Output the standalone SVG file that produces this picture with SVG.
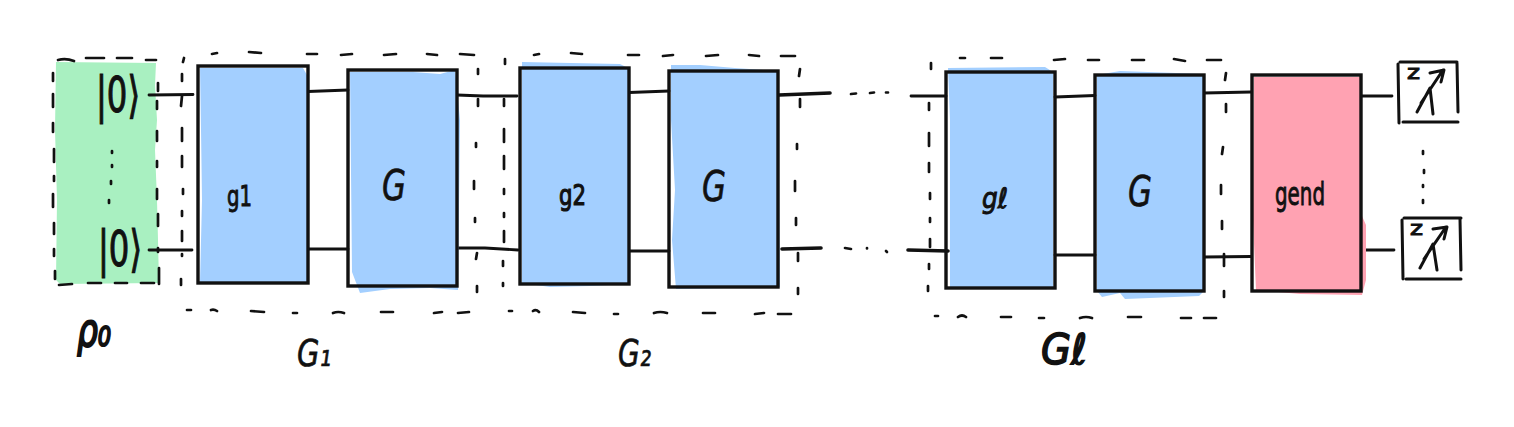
<svg xmlns="http://www.w3.org/2000/svg" width="1514" height="427" viewBox="0 0 1514 427">
<style>
.box{fill:none;stroke:#111;stroke-width:3.4}
.blue{fill:#a3cfff}
.pink{fill:#ffa2b2}
.green{fill:#a9f0c1}
.wire{fill:none;stroke:#111;stroke-width:2.8;stroke-linecap:round}
.thick{stroke-width:3.6}
.dash{fill:none;stroke:#111;stroke-width:2.7;stroke-linecap:round}
.m{fill:none;stroke:#111;stroke-width:3;stroke-linecap:round;stroke-linejoin:round}
text{font-family:"DejaVu Sans","Liberation Sans",sans-serif;fill:#111;stroke:#111;stroke-width:.7}
.lab{font-style:italic}
.heavy{stroke-width:1.6}
.ket{stroke-width:1.2}
</style>
<g id="rho0">
<path class="green" d="M56 62 L156 63 L155 85 L157 120 L155 150 L157 200 L158 240 L159 283 L60 284 L56 280 L57 200 L55 130 Z"/>
<path class="dash" d="M58 60 Q66 58 74 61 M86 58 L104 58 M117 58 L132 58 M146 60 L156 60 M59 285 L72 284 M88 283 L101 283 M115 283 L127 283 M141 283 L154 283 M53 73 L53 81 M53 94 L53 107 M53 123 L53 132 M54 149 L54 162 M54 176 L54 181 M53 194 L53 207 M54 223 L54 234 M54 249 L54 256 M55 271 L55 279 M158 83 L158 91 M157 101 L157 109 M157 131 L157 141 M157 161 L157 167 M157 189 L157 199 M158 214 L158 226 M158 248 L158 252 M159 268 L159 284"/>
<text class="ket" x="96" y="112" font-size="50" textLength="44" lengthAdjust="spacingAndGlyphs">|0⟩</text>
<text class="ket" x="98" y="266" font-size="50" textLength="44" lengthAdjust="spacingAndGlyphs">|0⟩</text>
<path class="dash" d="M112 151 L112 153 M112 165 L112 167 M111 181 L111 184 M109 200 L109 203"/>
<text class="lab" x="77" y="346" font-size="46" textLength="34" lengthAdjust="spacingAndGlyphs" style="stroke-width:2.2">ρ₀</text>
</g>
<g id="G1-group">
<path class="dash" d="M212 54 L217 53 M249 52 L261 53 M307 54 L317 54 M341 55 L352 54 M384 55 L396 54 M427 54 L437 55 M460 54 L474 55 M187 310 L191 310 M211 310 Q214 309 217 311 M251 311 L264 312 M293 313 L297 313 M333 313 Q338 311 344 313 M381 312 L393 312 M434 313 L442 312 M458 313 L469 312 M184 58 L183 62 M182 74 L182 81 M182 96 L181 106 M182 128 L182 141 M182 156 L182 167 M183 189 L183 194 M182 211 L182 216 M182 231 L182 241 M182 254 L182 256 M181 279 L181 285 M478 69 L478 74 M478 99 L478 106 M476 143 L476 147 M474 181 L474 189 M475 218 L475 222 M477 253 L476 259 M477 286 L477 292"/>
<text class="lab" x="297" y="366" font-size="38" textLength="34" lengthAdjust="spacingAndGlyphs">G₁</text>
</g>
<g id="G2-group">
<path class="dash" d="M534 55 L539 54 M571 53 L582 54 M628 55 L639 55 M663 56 L673 55 M706 56 L718 55 M749 55 L759 56 M781 56 L795 56 M509 311 L512 311 M533 311 Q536 309 539 312 M573 312 L585 313 M614 314 L618 314 M654 313 Q660 311 667 313 M703 313 L715 313 M755 314 L764 313 M778 314 L791 314 M505 59 L505 64 M504 99 L504 106 M504 129 L504 142 M504 156 L504 169 M504 189 L504 194 M504 213 L504 217 M504 231 L504 242 M503 261 L503 266 M503 283 L503 286 M800 69 L799 76 M800 99 L800 107 M797 144 L797 149 M795 181 L795 191 M796 218 L796 225 M798 253 L798 261 M798 288 L798 294"/>
<text class="lab" x="618" y="366" font-size="38" textLength="33" lengthAdjust="spacingAndGlyphs">G₂</text>
</g>
<g id="Gl-group">
<path class="dash" d="M960 58 L965 58 M991 58 L1002 58 M1054 60 L1065 59 M1088 60 L1099 60 M1132 60 L1144 60 M1174 59 L1185 61 M1207 60 L1221 60 M935 316 L938 316 M958 317 Q962 314 966 317 M1001 317 L1011 317 M1039 318 L1044 318 M1080 318 Q1086 316 1092 318 M1128 317 L1141 317 M1181 318 L1191 318 M1204 318 L1216 318 M931 63 L931 69 M929 103 L929 110 M929 133 L929 146 M929 163 L929 172 M930 193 L930 199 M930 218 L930 222 M930 239 L930 247 M929 264 L929 269 M928 286 L928 291 M1226 73 L1225 80 M1226 104 L1226 112 M1223 147 L1222 154 M1221 185 L1221 194 M1222 221 L1222 229 M1224 254 L1224 266 M1224 291 L1224 297"/>
<text class="lab heavy" x="1041" y="364" font-size="42" textLength="46" lengthAdjust="spacingAndGlyphs">Gℓ</text>
</g>
<g id="connectors">
<path class="wire" d="M149 95 L193 94.5 M308 91.5 L348 90 M457 95 L483 96 L517 96 M149 250 L192 250 M308 249 L348 249 M457 248 L485 248 L518 250 M629 92.5 L669 91 M629 251 L669 251 M911 96 L946 96 M1055 97 L1095 95.5 M1055 255 L1095 255 M1204 93 L1251 92 M1204 257 L1251 256.5 M1361 96 L1392 96 M1365 250 L1394 250"/>
<path class="wire thick" d="M779 95 L830 93 M782 249 L821 248 M908 250 L948 251"/>
<path class="dash" d="M851 94 L856 93.5 M870 93 L874 92.5 M886 92.5 L888 92.5 M845 248 L851 249 M867 248 L867 248.5 M886 251 L887 252"/>
</g>
<g id="g1">
<path class="blue" d="M200 68 L303 68 L307 75 L307 283 L200 282 L202 200 L201 130 Z"/>
<rect class="box" x="198" y="66" width="110" height="217"/>
<text x="227" y="206" font-size="28" textLength="25" lengthAdjust="spacingAndGlyphs" style="stroke-width:1">g1</text>
</g>
<g id="G-a">
<path class="blue" d="M350 72 L413 72 L440 74 L455 70 L458 100 L460 120 L458 290 L430 288 L390 289 L360 293 L352 272 Z"/>
<rect class="box" x="348" y="70" width="109" height="216"/>
<text class="lab" x="382" y="200" font-size="42" textLength="24" lengthAdjust="spacingAndGlyphs">G</text>
</g>
<g id="g2">
<path class="blue" d="M522 62 L620 64 L628 68 L628 284 L590 286 L550 287 L522 283 L522 120 Z"/>
<rect class="box" x="520" y="68" width="109" height="216"/>
<text x="559" y="205" font-size="28" textLength="27" lengthAdjust="spacingAndGlyphs" style="stroke-width:1.2">g2</text>
</g>
<g id="G-b">
<path class="blue" d="M671 65 L700 65 L735 68 L778 71 L780 287 L676 289 L672 240 L675 190 L671 120 Z"/>
<rect class="box" x="669" y="71" width="109" height="216"/>
<text class="lab" x="702" y="201" font-size="42" textLength="24" lengthAdjust="spacingAndGlyphs">G</text>
</g>
<g id="gl">
<path class="blue" d="M948 68 L1045 67 L1053 72 L1053 288 L950 288 L950 120 Z"/>
<rect class="box" x="946" y="72" width="109" height="216"/>
<text class="lab" x="982" y="208" font-size="28" textLength="26" lengthAdjust="spacingAndGlyphs" style="stroke-width:1">gℓ</text>
</g>
<g id="G-c">
<path class="blue" d="M1097 75 L1120 71 L1204 74 L1204 291 L1199 296 L1125 299 L1120 293 L1102 297 L1097 291 Z"/>
<rect class="box" x="1095" y="75" width="109" height="216"/>
<text class="lab" x="1128" y="206" font-size="42" textLength="24" lengthAdjust="spacingAndGlyphs">G</text>
</g>
<g id="gend">
<path class="pink" d="M1254 77 L1360 77 L1362 216 L1366 225 L1366 280 L1362 295 L1300 294 L1256 290 L1253 220 Z"/>
<rect class="box" x="1252" y="75" width="109" height="216"/>
<text x="1275" y="205" font-size="32" textLength="50" lengthAdjust="spacingAndGlyphs" style="stroke-width:1">gend</text>
</g>
<g id="meter-1">
<path class="m" d="M1400 62 L1457 62 M1398 64 L1399 123 M1457 63 L1458 112 M1403 122 L1458 122"/>
<path class="m" d="M1417 112 L1430 88 L1433 114 M1421 103 L1443 70 M1430 73 L1444 70 L1441 82"/>
<text x="1407" y="79" font-size="20" textLength="13" lengthAdjust="spacingAndGlyphs" style="stroke-width:1">z</text>
</g>
<g id="meter-2">
<path class="m" d="M1404 218 L1461 218 M1402 220 L1403 279 M1460 219 L1461 270 M1406 279 L1461 279"/>
<path class="m" d="M1420 268 L1433 244 L1437 270 M1424 259 L1446 227 M1433 229 L1447 227 L1444 239"/>
<text x="1410" y="235" font-size="20" textLength="13" lengthAdjust="spacingAndGlyphs" style="stroke-width:1">z</text>
</g>
<path class="dash" d="M1423 151 L1423 154 M1424 170 L1424 173 M1423 185 L1423 187 M1423 200 L1423 203"/>
</svg>
